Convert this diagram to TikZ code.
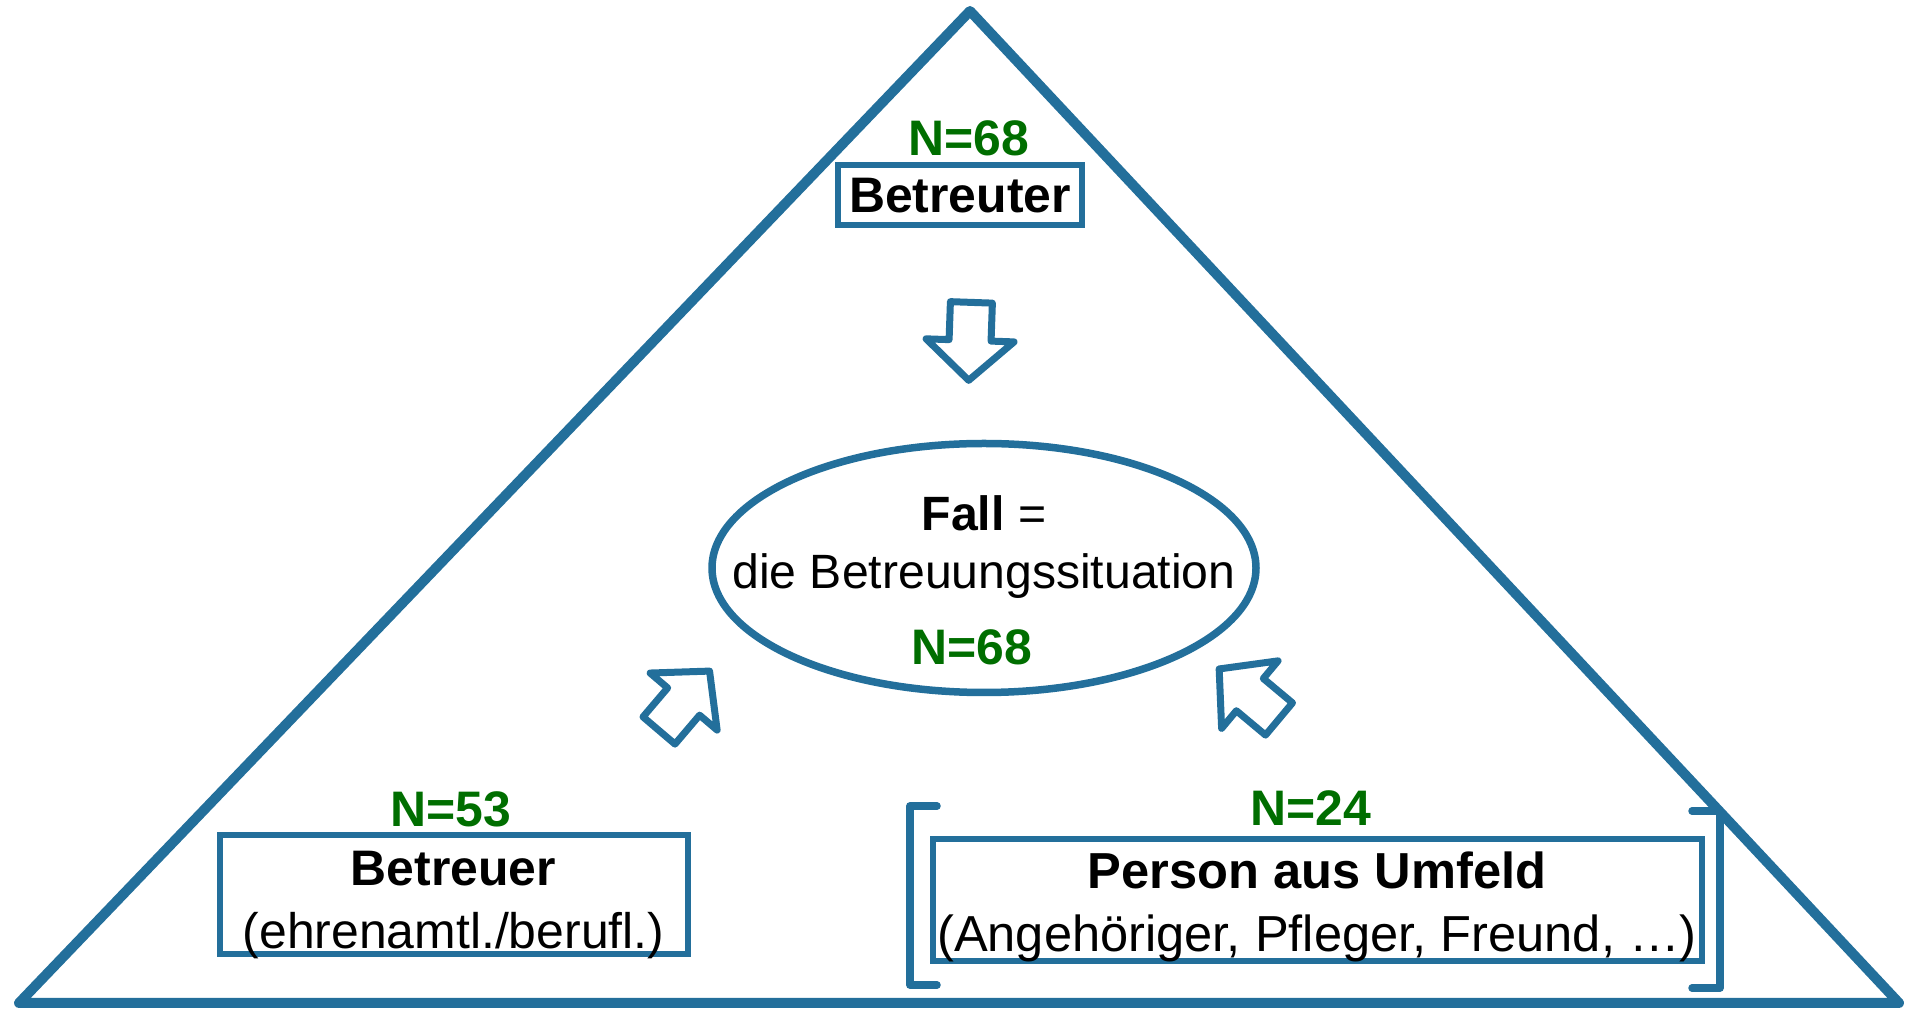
\documentclass[tikz,border=0pt]{standalone}
\usepackage{fontspec}
\setmainfont{Liberation Sans}
\usetikzlibrary{shapes.geometric}
\definecolor{rahmen}{RGB}{35,111,155}
\definecolor{zahl}{RGB}{0,110,0}
\tikzset{every node/.style={font=\fontsize{14.2}{17.9}\selectfont},
  kasten/.style={draw=rahmen,line width=.06cm,inner sep=0pt,align=center},
  anzahl/.style={text=zahl,font=\fontsize{14.2}{17.9}\selectfont\bfseries},
  klammer/.style={draw=rahmen,line width=.075cm,line cap=round,line join=round},
  pfeil/.pic={\draw[draw=rahmen,line width=.07cm,line join=round] (0,-.21)--(.38,-.21)--(.38,-.44)--(.78,0)--(.38,.44)--(.38,.21)--(0,.21)--cycle;}}

\begin{document}
\begin{tikzpicture}
\useasboundingbox (0,0) rectangle (19.13,10.10);
\draw[draw=rahmen,line width=.1cm,line join=round] (9.70,9.99)--(18.99,.07)--(.19,.07)--cycle;
% oben
\node[anzahl] (n68o) at (9.685,8.715){N=68};
\node[kasten,minimum width=2.44cm,minimum height=.60cm] (betreuter) at (9.60,8.145){\textbf{Betreuter}};
\pic[rotate=-92] at (9.714,7.076){pfeil};
% Mitte
\node[kasten,ellipse,line width=.075cm,minimum width=5.44cm,minimum height=2.49cm] (fall) at (9.84,4.42){};
\node[align=center,font=\fontsize{13.7}{16.5}\selectfont] (falltxt) at ([yshift=.21cm]fall.center){\textbf{Fall} =\\die Betreuungssituation};
\node[anzahl] (n68m) at (9.72,3.63){N=68};
% unten links
\pic[rotate=49.6] at (6.59,2.795){pfeil};
\node[anzahl] (n53) at (4.51,2.01){N=53};
\node[kasten,minimum width=4.68cm,minimum height=1.19cm] (betreuer) at (4.535,1.15){};
\node[align=center] (betreuertxt) at ([yshift=-.1cm]betreuer.center){\textbf{Betreuer}\\(ehrenamtl./berufl.)};
% unten rechts
\pic[rotate=140.1] at (12.79,2.91){pfeil};
\node[anzahl] (n24) at (13.11,2.02){N=24};
\node[kasten,minimum width=7.69cm,minimum height=1.22cm] (umfeld) at (13.17,1.095){};
\node[align=center,font=\fontsize{14.4}{17.9}\selectfont] (umfeldtxt) at ([yshift=-.06cm]umfeld.center){\textbf{Person aus Umfeld}\\(Angehöriger, Pfleger, Freund, …)};
\draw[klammer] (9.37,2.04)--(9.10,2.04)--(9.10,.25)--(9.37,.25);
\draw[klammer] (16.92,1.99)--(17.20,1.99)--(17.20,.22)--(16.92,.22);
\end{tikzpicture}
\end{document}
